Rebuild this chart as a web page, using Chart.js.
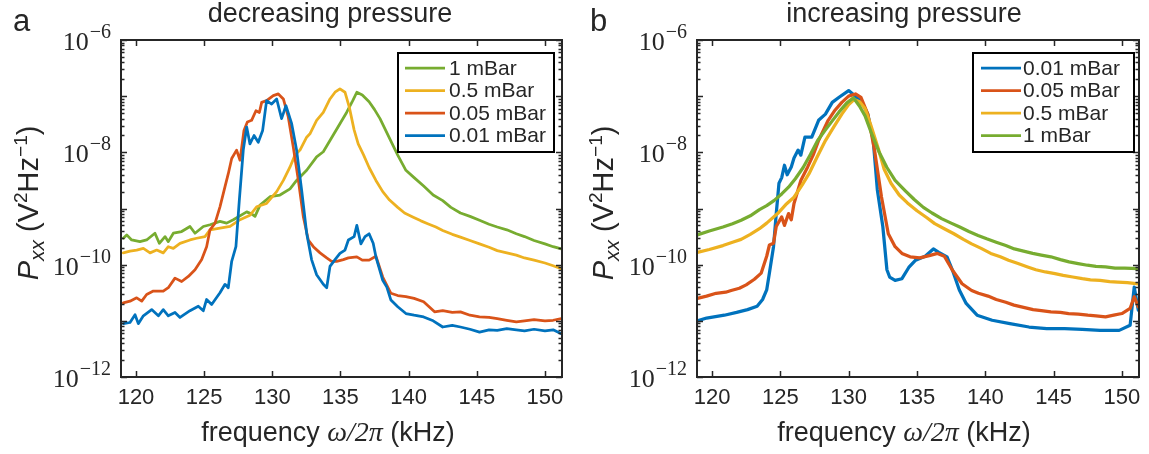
<!DOCTYPE html>
<html>
<head>
<meta charset="utf-8">
<script src="https://cdn.jsdelivr.net/npm/chart.js@4.4.1/dist/chart.umd.min.js"></script>
<style>
  html, body { margin: 0; padding: 0; background: #ffffff; }
  body { width: 1149px; height: 454px; position: relative; overflow: hidden; }
  .panel { position: absolute; top: 0; }
  canvas { display: block; }
</style>
</head>
<body>
<div class="panel" style="left:0px"><canvas id="chartA" width="575" height="454"></canvas></div>
<div class="panel" style="left:575px"><canvas id="chartB" width="574" height="454"></canvas></div>
<script>
// ---------------- DATA (frequency in kHz, values as log10 of Pxx in V^2/Hz) ----------------
const xTicks = [120, 125, 130, 135, 140, 145, 150];
const yTickExps = [-12, -10, -8, -6];
const xRange = [118.9, 151.25];

// Panel a: decreasing pressure
const a1Freq = [119.07,119.32,119.68,120.29,120.78,121.39,121.71,122.13,122.37,122.74,123.35,123.96,124.33,124.94,125.43,126.16,126.65,127.14,128.12,128.5,128.73,129.1,129.83,130.56,131.3,131.78,132.52,133.25,133.74,134.23,134.96,135.45,135.9,136.2,136.6,137.1,137.5,137.9,138.3,138.7,139.2,139.8,140.4,141.1,141.8,142.5,143.1,143.8,144.5,145.2,145.9,146.5,147.2,147.9,148.5,149.2,150.0,150.6,151.2];
const a1Log  = [-9.53,-9.47,-9.56,-9.59,-9.56,-9.44,-9.62,-9.50,-9.59,-9.44,-9.41,-9.32,-9.44,-9.32,-9.29,-9.23,-9.26,-9.20,-9.06,-9.10,-9.14,-8.94,-8.79,-8.76,-8.65,-8.50,-8.32,-8.08,-7.99,-7.79,-7.49,-7.29,-7.08,-6.93,-6.98,-7.10,-7.24,-7.40,-7.60,-7.80,-8.05,-8.32,-8.45,-8.60,-8.76,-8.86,-8.98,-9.08,-9.14,-9.21,-9.28,-9.33,-9.38,-9.45,-9.50,-9.57,-9.63,-9.68,-9.72];

const a05Freq = [119.07,119.56,120.05,120.54,121.03,121.52,122.0,122.37,122.74,123.23,123.96,124.45,125.06,125.43,126.16,126.9,127.63,128.36,128.85,129.58,130.32,130.81,131.3,131.66,132.03,132.52,132.76,133.25,133.74,134.23,134.6,134.96,135.33,135.65,136.0,136.3,136.7,137.1,137.6,138.1,138.6,139.2,139.7,140.3,140.9,141.4,142.0,142.5,143.2,143.8,144.5,145.2,145.9,146.5,147.2,147.9,148.5,149.2,150.0,150.6,151.2];
const a05Log  = [-9.79,-9.76,-9.74,-9.71,-9.79,-9.74,-9.79,-9.68,-9.71,-9.62,-9.56,-9.53,-9.50,-9.38,-9.35,-9.32,-9.20,-9.12,-8.97,-8.91,-8.70,-8.50,-8.26,-8.05,-7.96,-7.73,-7.67,-7.43,-7.29,-7.05,-6.93,-6.87,-6.93,-7.20,-7.60,-7.85,-8.05,-8.27,-8.50,-8.70,-8.85,-8.98,-9.08,-9.15,-9.22,-9.27,-9.33,-9.39,-9.46,-9.51,-9.57,-9.63,-9.69,-9.75,-9.79,-9.83,-9.88,-9.92,-9.97,-10.02,-10.07];

const a005Freq = [119.07,119.56,120.05,120.42,120.78,121.27,122.0,122.37,122.86,123.35,123.84,124.33,124.82,125.18,125.43,125.8,126.16,126.53,126.77,127.02,127.38,127.63,127.92,128.17,128.48,128.8,129.05,129.22,129.58,130.07,130.44,130.81,131.17,131.54,131.91,132.27,132.64,133.01,133.5,133.99,134.35,134.72,135.21,135.58,136.2,136.6,137.1,137.6,138.1,138.7,139.2,139.8,140.4,141.1,141.9,142.5,143.2,143.8,144.5,145.2,145.9,146.5,147.2,147.9,148.5,149.2,150.0,150.6,151.2];
const a005Log  = [-10.68,-10.65,-10.59,-10.65,-10.53,-10.47,-10.47,-10.41,-10.24,-10.30,-10.21,-10.09,-9.91,-9.68,-9.38,-9.26,-8.97,-8.61,-8.38,-8.11,-7.96,-8.14,-7.61,-7.46,-7.43,-7.26,-7.29,-7.11,-7.08,-6.99,-6.96,-7.05,-7.37,-7.91,-8.50,-9.14,-9.56,-9.68,-9.79,-9.88,-9.94,-9.94,-9.91,-9.88,-9.86,-9.92,-9.92,-9.85,-10.22,-10.51,-10.55,-10.57,-10.60,-10.66,-10.84,-10.82,-10.85,-10.84,-10.90,-10.93,-10.94,-10.96,-10.99,-11.02,-11.00,-10.98,-11.00,-10.99,-10.96];

const a001Freq = [119.07,119.56,119.93,120.17,120.54,121.15,121.64,122.0,122.37,122.86,123.23,123.96,124.57,124.94,125.18,125.55,126.16,126.53,126.77,127.02,127.33,127.58,127.87,128.12,128.36,128.66,128.97,129.29,129.58,129.95,130.32,130.68,131.0,131.42,131.78,132.15,132.52,132.88,133.25,133.74,133.99,134.23,134.6,134.96,135.33,135.58,136.0,136.2,136.5,136.8,137.1,137.4,137.6,138.1,138.4,138.7,139.2,139.8,140.4,141.1,141.8,142.5,143.2,143.8,144.5,145.2,145.9,146.5,147.2,147.9,148.5,149.2,150.0,150.6,151.2];
const a001Log  = [-11.05,-11.03,-10.89,-11.05,-10.91,-10.80,-10.91,-10.80,-10.91,-10.85,-10.94,-10.82,-10.74,-10.82,-10.62,-10.71,-10.50,-10.35,-10.41,-9.94,-9.68,-8.85,-7.96,-7.55,-7.85,-7.70,-7.82,-7.61,-7.08,-7.14,-7.05,-7.40,-7.17,-7.49,-7.96,-8.67,-9.44,-9.91,-10.18,-10.35,-10.41,-10.03,-9.91,-9.80,-9.74,-9.56,-9.50,-9.30,-9.63,-9.50,-9.45,-9.62,-9.86,-10.28,-10.40,-10.63,-10.75,-10.87,-10.90,-10.93,-11.00,-11.11,-11.08,-11.11,-11.15,-11.20,-11.16,-11.17,-11.14,-11.16,-11.18,-11.15,-11.18,-11.16,-11.23];

// Panel b: increasing pressure
const b001Freq = [118.93,119.6,120.9,121.8,122.6,123.3,123.7,124.0,124.2,124.5,124.7,124.9,125.1,125.3,125.5,125.8,126.0,126.3,126.5,126.8,127.3,127.6,127.8,128.3,128.8,129.3,130.0,130.3,130.7,131.0,131.4,131.8,132.1,132.5,132.8,133.0,133.4,133.9,134.4,134.9,135.6,136.2,136.6,137.2,137.6,138.1,138.6,139.4,140.5,141.8,143.2,144.5,145.8,147.1,148.4,149.8,150.6,150.9,151.2];
const b001Log  = [-11.0,-10.95,-10.90,-10.85,-10.80,-10.74,-10.62,-10.45,-10.15,-9.68,-9.09,-8.55,-8.45,-8.23,-8.40,-8.26,-8.10,-7.96,-8.05,-7.73,-7.73,-7.55,-7.43,-7.32,-7.11,-7.02,-6.90,-6.96,-7.05,-7.12,-7.32,-7.79,-8.67,-9.32,-10.09,-10.22,-10.28,-10.25,-10.05,-9.92,-9.85,-9.72,-9.78,-9.86,-10.10,-10.45,-10.69,-10.90,-10.99,-11.05,-11.11,-11.14,-11.14,-11.15,-11.17,-11.17,-11.08,-10.40,-10.81];

const b005Freq = [118.93,119.6,120.3,121.0,121.4,122.0,122.5,123.1,123.6,124.0,124.2,124.5,124.7,125.1,125.3,125.6,125.8,126.0,126.5,127.0,127.4,127.8,128.5,129.0,129.5,130.0,130.5,130.9,131.4,131.9,132.4,132.9,133.4,133.9,134.5,135.2,135.9,136.5,137.0,137.6,138.3,139.0,139.5,140.2,140.8,141.5,142.1,142.8,143.5,144.1,144.8,145.5,146.1,146.8,147.5,148.1,148.8,149.4,150.0,150.6,150.9,151.2];
const b005Log  = [-10.60,-10.56,-10.51,-10.49,-10.46,-10.42,-10.36,-10.26,-10.15,-9.85,-9.65,-9.62,-9.32,-9.15,-9.30,-9.09,-9.20,-8.91,-8.50,-8.26,-8.05,-7.79,-7.43,-7.25,-7.11,-7.0,-6.96,-7.02,-7.32,-7.97,-8.79,-9.45,-9.68,-9.80,-9.86,-9.88,-9.84,-9.80,-9.85,-10.10,-10.34,-10.46,-10.51,-10.56,-10.62,-10.67,-10.72,-10.76,-10.80,-10.82,-10.84,-10.85,-10.87,-10.88,-10.90,-10.91,-10.93,-10.90,-10.87,-10.78,-10.57,-10.75];

const b05Freq = [118.93,119.8,120.8,121.5,122.13,122.8,123.47,124.0,124.8,125.4,126.0,126.6,127.1,127.7,128.3,128.9,129.5,130.0,130.4,130.8,131.2,131.6,132.2,132.6,133.1,133.7,134.3,135.0,135.7,136.3,137.0,137.7,138.4,139.0,139.7,140.4,141.1,141.7,142.4,143.1,143.7,144.4,145.1,145.7,146.4,147.1,147.7,148.4,149.1,149.7,150.4,151.2];
const b05Log  = [-9.78,-9.73,-9.66,-9.60,-9.55,-9.46,-9.36,-9.26,-9.09,-8.93,-8.80,-8.58,-8.38,-8.08,-7.79,-7.55,-7.32,-7.15,-7.06,-7.10,-7.22,-7.50,-7.96,-8.30,-8.55,-8.76,-8.90,-9.04,-9.16,-9.27,-9.36,-9.45,-9.55,-9.63,-9.71,-9.80,-9.86,-9.92,-9.98,-10.04,-10.09,-10.13,-10.16,-10.19,-10.22,-10.25,-10.27,-10.28,-10.30,-10.31,-10.32,-10.34];

const b1Freq = [118.93,119.8,120.8,121.5,122.13,122.8,123.47,124.0,124.53,125.1,125.6,126.1,126.67,127.2,127.73,128.3,128.8,129.3,129.87,130.35,130.8,131.2,131.73,132.2,132.8,133.4,134.13,134.8,135.47,136.1,136.8,137.5,138.13,138.8,139.47,140.1,140.8,141.5,142.13,142.8,143.47,144.1,144.8,145.5,146.13,146.8,147.47,148.1,148.8,149.5,150.2,151.2];
const b1Log  = [-9.47,-9.40,-9.33,-9.27,-9.21,-9.13,-9.02,-8.95,-8.86,-8.74,-8.62,-8.47,-8.27,-8.04,-7.79,-7.60,-7.44,-7.28,-7.12,-7.03,-7.18,-7.35,-7.70,-7.98,-8.27,-8.50,-8.68,-8.84,-8.98,-9.08,-9.18,-9.26,-9.33,-9.41,-9.48,-9.54,-9.60,-9.66,-9.72,-9.76,-9.80,-9.83,-9.86,-9.91,-9.95,-9.98,-10.01,-10.03,-10.04,-10.06,-10.06,-10.07];

const labels = { p1: '1 mBar', p05: '0.5 mBar', p005: '0.05 mBar', p001: '0.01 mBar' };
const colors = { p1: '#77AC30', p05: '#EDB120', p005: '#D95319', p001: '#0072BD' };

// ---------------- STYLE ----------------
const TXT = '#262626';
const SANS = "'Liberation Sans', Arial, sans-serif";
const SERIF = "'Liberation Serif', 'DejaVu Serif', serif";

function series(freq, logv) {
  return freq.map((f, i) => ({ x: f, y: Math.pow(10, logv[i]) }));
}

function makeDataset(key, freq, logv, order, width) {
  return {
    label: labels[key],
    data: series(freq, logv),
    borderColor: colors[key],
    backgroundColor: colors[key],
    borderWidth: width,
    pointRadius: 0,
    tension: 0,
    borderJoinStyle: 'round',
    borderCapStyle: 'round',
    order: order,
    fill: false
  };
}

const decoPlugin = {
  id: 'deco',
  afterDraw(chart, args, o) {
    const ctx = chart.ctx;
    const ca = chart.chartArea;
    const xs = chart.scales.x, ys = chart.scales.y;
    ctx.save();
    // axes box
    ctx.strokeStyle = TXT;
    ctx.lineWidth = 2;
    ctx.strokeRect(ca.left, ca.top, ca.right - ca.left, ca.bottom - ca.top);
    // x ticks (inward, top and bottom)
    ctx.lineWidth = 1.5;
    ctx.beginPath();
    xTicks.forEach(v => {
      const px = Math.round(xs.getPixelForValue(v)) + 0.5;
      ctx.moveTo(px, ca.bottom); ctx.lineTo(px, ca.bottom - 6);
      ctx.moveTo(px, ca.top); ctx.lineTo(px, ca.top + 6);
    });
    ctx.stroke();
    // y ticks, major + minor (inward, left and right)
    ctx.beginPath();
    for (let e = -12; e <= -6; e++) {
      for (let m = 1; m <= 9; m++) {
        const v = m * Math.pow(10, e);
        if (v > 1.0001e-6) break;
        const py = Math.round(ys.getPixelForValue(v)) + 0.5;
        const L = (m === 1) ? 6 : 3.5;
        ctx.moveTo(ca.left, py); ctx.lineTo(ca.left + L, py);
        ctx.moveTo(ca.right, py); ctx.lineTo(ca.right - L, py);
      }
    }
    ctx.stroke();
    // y tick labels 10^e
    ctx.fillStyle = TXT;
    ctx.textBaseline = 'alphabetic';
    yTickExps.forEach(e => {
      const py = ys.getPixelForValue(Math.pow(10, e));
      const exp = '\u2212' + String(-e);
      ctx.font = '20px ' + SERIF;
      const ew = ctx.measureText(exp).width;
      const xr = ca.left - 10;
      ctx.textAlign = 'right';
      ctx.fillText(exp, xr, py - 2);
      ctx.font = '26px ' + SERIF;
      ctx.fillText('10', xr - ew - 1, py + 10);
    });
    // y axis title: P_xx (V^2 Hz^-1), rotated
    ctx.save();
    ctx.translate(o.yTitleX, o.yTitleY);
    ctx.rotate(-Math.PI / 2);
    const parts = [
      { t: 'P', f: 'italic 29px ' + SANS, dy: 0 },
      { t: 'xx', f: 'italic 21px ' + SANS, dy: 6 },
      { t: ' (V', f: '29px ' + SANS, dy: 0 },
      { t: '2', f: '19px ' + SANS, dy: -11 },
      { t: 'Hz', f: '29px ' + SANS, dy: 0 },
      { t: '\u22121', f: '19px ' + SANS, dy: -11 },
      { t: ')', f: '29px ' + SANS, dy: 0 }
    ];
    let tot = 0;
    parts.forEach(p => { ctx.font = p.f; p.w = ctx.measureText(p.t).width; tot += p.w; });
    let cx = -tot / 2;
    ctx.textAlign = 'left';
    parts.forEach(p => { ctx.font = p.f; ctx.fillText(p.t, cx, p.dy); cx += p.w; });
    ctx.restore();
    // x axis title: frequency ω/2π (kHz)
    ctx.textAlign = 'left';
    const xparts = [
      { t: 'frequency ', f: '27px ' + SANS },
      { t: '\u03c9/2\u03c0', f: 'italic 28px ' + SERIF },
      { t: ' (kHz)', f: '27px ' + SANS }
    ];
    let xt = 0;
    xparts.forEach(p => { ctx.font = p.f; p.w = ctx.measureText(p.t).width; xt += p.w; });
    let xx = o.xTitleX - xt / 2;
    xparts.forEach(p => { ctx.font = p.f; ctx.fillText(p.t, xx, o.xTitleY); xx += p.w; });
    // panel title
    ctx.textAlign = 'center';
    ctx.font = '27px ' + SANS;
    ctx.fillText(o.title, o.titleX, 22);
    // panel letter
    ctx.textAlign = 'left';
    ctx.font = '31px ' + SANS;
    ctx.fillText(o.letter, o.letterX, 31);
    // legend
    const lg = o.legend;
    ctx.fillStyle = '#ffffff';
    ctx.fillRect(lg.x, lg.y, lg.w, lg.h);
    ctx.strokeStyle = '#000000';
    ctx.lineWidth = 2;
    ctx.strokeRect(lg.x, lg.y, lg.w, lg.h);
    ctx.font = '21px ' + SANS;
    ctx.textBaseline = 'middle';
    o.legendOrder.forEach((idx, i) => {
      const ds = chart.data.datasets[idx];
      const yy = lg.y + 15 + i * 22.5;
      ctx.strokeStyle = ds.borderColor;
      ctx.lineWidth = 2.75;
      ctx.beginPath();
      ctx.moveTo(lg.x + lg.s0, yy); ctx.lineTo(lg.x + lg.s1, yy);
      ctx.stroke();
      ctx.fillStyle = TXT;
      ctx.fillText(ds.label, lg.x + lg.tx, yy + 1);
    });
    ctx.restore();
  }
};

function makeChart(id, datasets, pad, deco) {
  return new Chart(document.getElementById(id), {
    type: 'line',
    data: { datasets: datasets },
    options: {
      responsive: false,
      animation: false,
      devicePixelRatio: 1,
      layout: { padding: pad },
      plugins: { legend: { display: false }, tooltip: { enabled: false }, deco: deco },
      scales: {
        x: {
          type: 'linear',
          min: xRange[0], max: xRange[1],
          grid: { display: false, drawTicks: false },
          border: { display: false },
          afterBuildTicks: (s) => { s.ticks = xTicks.map(v => ({ value: v })); },
          afterFit: (s) => { s.height = 77; },
          ticks: { color: TXT, font: { family: SANS, size: 22 }, padding: 8, maxRotation: 0, autoSkip: false }
        },
        y: {
          type: 'logarithmic',
          min: 1e-12, max: 1e-6,
          display: false
        }
      }
    },
    plugins: [decoPlugin]
  });
}

// Panel a: blue on top
const dsA = [
  makeDataset('p1', a1Freq, a1Log, 3, 2.75),
  makeDataset('p05', a05Freq, a05Log, 2, 2.75),
  makeDataset('p005', a005Freq, a005Log, 1, 2.75),
  makeDataset('p001', a001Freq, a001Log, 0, 2.75)
];
makeChart('chartA', dsA, { left: 121, right: 13, top: 40, bottom: 0 }, {
  title: 'decreasing pressure', titleX: 330, letter: 'a', letterX: 13,
  yTitleX: 38, yTitleY: 203, xTitleX: 328, xTitleY: 441,
  legend: { x: 398, y: 53, w: 156, h: 99, s0: 7, s1: 47, tx: 51 },
  legendOrder: [0, 1, 2, 3]
});

// Panel b: green on top
const dsB = [
  makeDataset('p001', b001Freq, b001Log, 3, 3.25),
  makeDataset('p005', b005Freq, b005Log, 2, 3.25),
  makeDataset('p05', b05Freq, b05Log, 1, 3.25),
  makeDataset('p1', b1Freq, b1Log, 0, 3.25)
];
makeChart('chartB', dsB, { left: 122, right: 10, top: 40, bottom: 0 }, {
  title: 'increasing pressure', titleX: 329, letter: 'b', letterX: 15,
  yTitleX: 38, yTitleY: 203, xTitleX: 329, xTitleY: 441,
  legend: { x: 398, y: 53, w: 161, h: 99, s0: 8, s1: 48, tx: 50 },
  legendOrder: [0, 1, 2, 3]
});
</script>
</body>
</html>
